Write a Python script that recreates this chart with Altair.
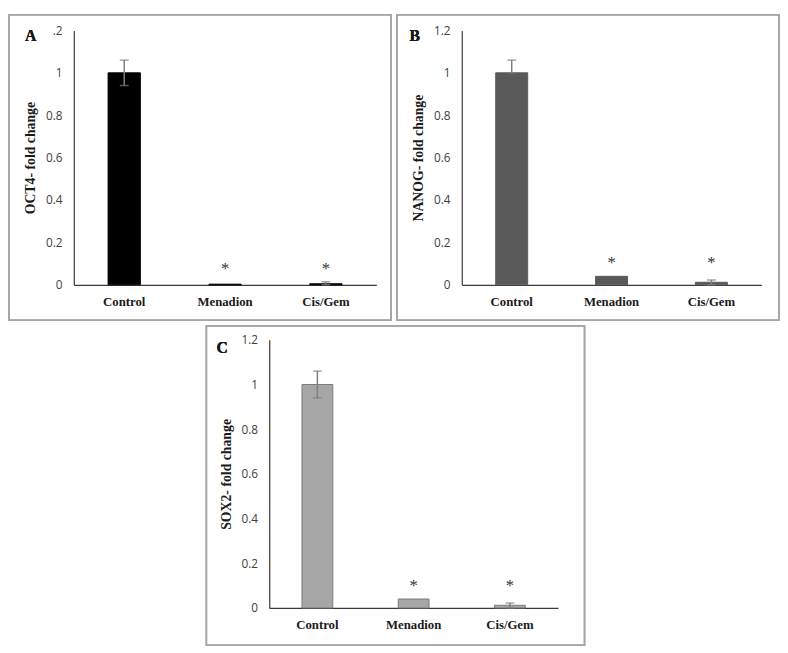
import altair as alt
import pandas as pd

categories = ["Control", "Menadion", "Cis/Gem"]

oct4 = [1.0, 0.003, 0.005]
oct4_err_lo = [0.06, 0.0, 0.005]
oct4_err_hi = [0.06, 0.0, 0.009]
oct4_stars = [None, 0.092, 0.092]

nanog = [1.0, 0.04, 0.012]
nanog_err_lo = [0.0, 0.0, 0.012]
nanog_err_hi = [0.06, 0.0, 0.011]
nanog_stars = [None, 0.122, 0.122]

sox2 = [1.0, 0.04, 0.012]
sox2_err_lo = [0.06, 0.0, 0.012]
sox2_err_hi = [0.06, 0.0, 0.010]
sox2_stars = [None, 0.115, 0.115]

y_ticks = [0, 0.2, 0.4, 0.6, 0.8, 1.0, 1.2]

SERIF = "Liberation Serif"
SANS = "Open Sans"


def panel(values, err_lo, err_hi, stars, fill, stroke, title, letter,
          width, height, frame, letter_pos, label_expr):
    df = pd.DataFrame({"cat": categories, "v": values})
    err = pd.DataFrame({
        "cat": categories,
        "lo": [max(0.0, v - e) for v, e in zip(values, err_lo)],
        "hi": [v + e for v, e in zip(values, err_hi)],
        "e": [a + b for a, b in zip(err_lo, err_hi)],
    })
    err = err[err["e"] > 0]
    st = pd.DataFrame({"cat": categories, "s": stars}).dropna()

    xenc = alt.X(
        "cat:N", sort=categories,
        scale=alt.Scale(paddingInner=0.68, paddingOuter=0.34),
        axis=alt.Axis(title=None, labelAngle=0, labelFont=SERIF, labelFontWeight="bold",
                      labelFontSize=13, labelColor="#1a1a1a", labelPadding=11,
                      ticks=False, tickSize=0, domainColor="#3a3a3a", domainWidth=1.2),
    )
    yscale = alt.Scale(domain=[0, 1.2], nice=False)
    yaxis = alt.Axis(values=y_ticks, labelExpr=label_expr, title=title, titleFont=SERIF,
                     titleFontWeight="bold", titleFontSize=14, titleColor="#1a1a1a",
                     titlePadding=8, labelFont=SANS, labelFontSize=12, labelColor="#404040",
                     labelPadding=12, ticks=False, tickSize=0, grid=False,
                     domainColor="#3a3a3a", domainWidth=1.2)

    bars = alt.Chart(df).mark_bar(fill=fill, stroke=stroke, strokeWidth=1).encode(
        x=xenc, y=alt.Y("v:Q", scale=yscale, axis=yaxis)
    )
    eb = alt.Chart(err)
    rule = eb.mark_rule(color="#7f7f7f", strokeWidth=1.5).encode(
        x=alt.X("cat:N", sort=categories), y="lo:Q", y2="hi:Q"
    )
    cap_hi = eb.mark_tick(color="#7f7f7f", size=9, thickness=1.5).encode(
        x=alt.X("cat:N", sort=categories), y="hi:Q"
    )
    cap_lo = eb.mark_tick(color="#7f7f7f", size=9, thickness=1.5).encode(
        x=alt.X("cat:N", sort=categories), y="lo:Q"
    )
    star = alt.Chart(st).mark_text(text="*", font=SERIF, fontSize=17, color="#333333",
                                   baseline="middle", dy=4).encode(
        x=alt.X("cat:N", sort=categories), y="s:Q"
    )
    fl, fr, ft, fb = frame
    box = alt.Chart(df).mark_rect(fillOpacity=0, stroke="#a6a6a6", strokeWidth=1.5).encode(
        x=alt.value(fl), x2=alt.value(width + fr), y=alt.value(ft), y2=alt.value(height + fb)
    )
    lab = alt.Chart(df).mark_text(text=letter, font=SERIF, fontWeight="bold", fontSize=16,
                                  color="#1a1a1a", baseline="middle", align="center").encode(
        x=alt.value(letter_pos[0]), y=alt.value(letter_pos[1])
    )
    return alt.layer(box, bars, rule, cap_hi, cap_lo, star, lab).properties(
        width=width, height=height
    )


std_fmt = "format(datum.value, '~g')"
a_fmt = "datum.value == 1.2 ? '.2' : format(datum.value, '~g')"

A = panel(oct4, oct4_err_lo, oct4_err_hi, oct4_stars, "#000000", "#000000",
          "OCT4- fold change", "A", 308, 259, (-66, 15, -16, 36), (-44, 6), a_fmt)
B = panel(nanog, nanog_err_lo, nanog_err_hi, nanog_stars, "#595959", "#595959",
          "NANOG- fold change", "B", 305, 259, (-66, 18, -16, 36), (-48, 6), std_fmt)
C = panel(sox2, sox2_err_lo, sox2_err_hi, sox2_stars, "#a6a6a6", "#7a7a7a",
          "SOX2- fold change", "C", 294, 273, (-64, 27, -14, 38), (-48, 8), std_fmt)

spacer = alt.Chart(pd.DataFrame({"a": [0]})).mark_rect(opacity=0).encode(
    x=alt.value(0), x2=alt.value(129), y=alt.value(0), y2=alt.value(10)
).properties(width=129, height=10)

top = alt.hconcat(A, B, spacing=4)
bottom = alt.hconcat(spacer, C, spacing=5)

chart = alt.vconcat(top, bottom, spacing=4).properties(
    padding=0, background="white"
).configure_view(stroke=None)

chart.save("out.html", embed_options={"renderer": "svg", "actions": False})
